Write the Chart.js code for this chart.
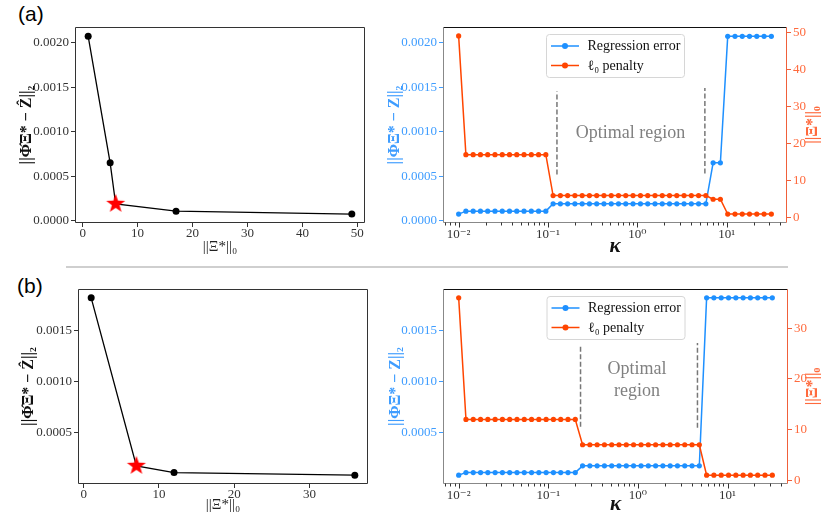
<!DOCTYPE html>
<html>
<head>
<meta charset="utf-8">
<title>Sparsity trade-off and kappa sweep</title>
<script src="https://cdn.jsdelivr.net/npm/chart.js@4.4.1/dist/chart.umd.min.js"></script>
<style>
  html, body { margin: 0; padding: 0; background: #fff; }
  #fig { position: relative; width: 830px; height: 521px; overflow: hidden; }
  #fig canvas { position: absolute; }
  .tag { position: absolute; font: 21px "Liberation Sans", Arial, sans-serif; color: #000; }
  .sep { position: absolute; left: 66px; top: 266px; width: 722px; height: 2px; background: #cfcfcf; }
</style>
</head>
<body>
<div id="fig">
  <div class="tag" style="left:18px;top:2px">(a)</div>
  <div class="tag" style="left:17px;top:274px">(b)</div>
  <div class="sep"></div>
  <canvas id="aLeft" width="372" height="260" style="left:0;top:0"></canvas>
  <canvas id="aRight" width="458" height="260" style="left:372px;top:0"></canvas>
  <canvas id="bLeft" width="372" height="261" style="left:0;top:260px"></canvas>
  <canvas id="bRight" width="458" height="261" style="left:372px;top:260px"></canvas>
</div>
<script>
// ---- data ----

// (a) error vs number of active terms, star marks the chosen model
const sparsityA = [1, 5, 6, 17, 49];
const errorA = [0.00207, 0.00065, 0.00019, 0.000108, 0.000075];
const chosenA = 2;

// (b)
const sparsityB = [1, 7, 12, 36];
const errorB = [0.00182, 0.000178, 0.000112, 0.000087];
const chosenB = 1;

// kappa sweep (shared by both panels)
const kappa = [
  0.01, 0.01206, 0.01454, 0.01754, 0.02115, 0.02551, 0.03076, 0.03709, 0.04473, 0.05394,
  0.06505, 0.07845, 0.0946, 0.1141, 0.1376, 0.1659, 0.2001, 0.2413, 0.291, 0.3509,
  0.4231, 0.5103, 0.6154, 0.7421, 0.8949, 1.084, 1.307, 1.576, 1.9, 2.292,
  2.764, 3.333, 4.019, 4.847, 5.845, 7.049, 8.501, 10.27, 12.39, 14.94,
  18.01, 21.72, 26.2, 31.62
];

const regErrorA = [
  0.000075, 0.000108, 0.000108, 0.000108, 0.000108, 0.000108, 0.000108, 0.000108, 0.000108, 0.000108,
  0.000108, 0.000108, 0.000108, 0.00019, 0.00019, 0.00019, 0.00019, 0.00019, 0.00019, 0.00019,
  0.00019, 0.00019, 0.00019, 0.00019, 0.00019, 0.00019, 0.00019, 0.00019, 0.00019, 0.00019,
  0.00019, 0.00019, 0.00019, 0.00019, 0.00019, 0.00065, 0.00065, 0.00207, 0.00207, 0.00207,
  0.00207, 0.00207, 0.00207, 0.00207
];
const penaltyA = [
  49, 17, 17, 17, 17, 17, 17, 17, 17, 17,
  17, 17, 17, 6, 6, 6, 6, 6, 6, 6,
  6, 6, 6, 6, 6, 6, 6, 6, 6, 6,
  6, 6, 6, 6, 6, 5, 5, 1, 1, 1,
  1, 1, 1, 1
];

const regErrorB = [
  0.000087, 0.000112, 0.000112, 0.000112, 0.000112, 0.000112, 0.000112, 0.000112, 0.000112, 0.000112,
  0.000112, 0.000112, 0.000112, 0.000112, 0.000112, 0.000112, 0.000112, 0.000178, 0.000178, 0.000178,
  0.000178, 0.000178, 0.000178, 0.000178, 0.000178, 0.000178, 0.000178, 0.000178, 0.000178, 0.000178,
  0.000178, 0.000178, 0.000178, 0.000178, 0.00182, 0.00182, 0.00182, 0.00182, 0.00182, 0.00182,
  0.00182, 0.00182, 0.00182, 0.00182
];
const penaltyB = [
  36, 12, 12, 12, 12, 12, 12, 12, 12, 12,
  12, 12, 12, 12, 12, 12, 12, 7, 7, 7,
  7, 7, 7, 7, 7, 7, 7, 7, 7, 7,
  7, 7, 7, 7, 1, 1, 1, 1, 1, 1,
  1, 1, 1, 1
];

// bounds of the "optimal region" (kappa)
const optimalA = [0.126, 5.7];
const optimalB = [0.229, 4.62];

// tick labels
const sparsityTicksA = [0, 10, 20, 30, 40, 50];
const sparsityTicksB = [0, 10, 20, 30];
const errorTicksA = [0, 0.0005, 0.001, 0.0015, 0.002];
const errorTicksB = [0.0005, 0.001, 0.0015];
const penaltyTicksA = [0, 10, 20, 30, 40, 50];
const penaltyTicksB = [0, 10, 20, 30];
const kappaMajor = [0.01, 0.1, 1, 10];
const kappaMajorLabels = ['10\u207B\u00B2', '10\u207B\u00B9', '10\u2070', '10\u00B9'];

// ---- styling ----
const SERIF = '"Liberation Serif", "DejaVu Serif", serif';
const INK = '#333';
const BLUE = '#1e90ff';
const BLUE_TXT = '#3f9dff';
const ORANGE = '#ff4500';
const ORANGE_TXT = '#ff6a3d';
const ORANGE_SPINE = '#f0603a';
const KAPPA_MIN = 0.006683;
const KAPPA_MAX = 47.32;
const TICK_FONT = { family: SERIF, size: 13, lineHeight: 1 };

// minor log ticks (axis decoration only)
const kappaMinor = [];
for (let e = -3; e <= 1; e++) {
  for (let m = 2; m <= 9; m++) {
    const v = m * Math.pow(10, e);
    if (v > KAPPA_MIN && v < KAPPA_MAX) kappaMinor.push(v);
  }
}

function makeStar(r) {
  const c = document.createElement('canvas');
  const s = Math.ceil(r * 2 + 2);
  c.width = s;
  c.height = s;
  const g = c.getContext('2d');
  g.beginPath();
  for (let k = 0; k < 10; k++) {
    const rad = k % 2 === 0 ? r : r * 0.4;
    const a = -Math.PI / 2 + k * Math.PI / 5;
    g.lineTo(s / 2 + rad * Math.cos(a), s / 2 + rad * Math.sin(a));
  }
  g.closePath();
  g.fillStyle = '#ff0000';
  g.fill();
  return c;
}
const starImg = makeStar(10);

function yAxis(o) {
  return {
    type: 'linear',
    position: o.pos,
    min: o.min,
    max: o.max,
    afterBuildTicks: (s) => { s.ticks = o.ticks.map((v) => ({ value: v })); },
    afterFit: (s) => { s.width = o.width; },
    ticks: {
      color: o.color,
      font: TICK_FONT,
      padding: 2,
      callback: o.fmt
    },
    grid: { drawOnChartArea: false, drawTicks: true, tickLength: 4, color: o.tickColor },
    border: { display: false },
    title: o.title
      ? {
          display: true,
          text: o.title,
          color: o.titleColor,
          font: { family: SERIF, size: 16, weight: 'bold' },
          padding: { top: o.titlePad, bottom: 0 }
        }
      : { display: false }
  };
}

function linearX(o) {
  return {
    type: 'linear',
    min: o.min,
    max: o.max,
    afterBuildTicks: (s) => { s.ticks = o.ticks.map((v) => ({ value: v })); },
    afterFit: (s) => { s.height = o.height; },
    ticks: { color: INK, font: TICK_FONT, padding: 0, maxRotation: 0 },
    grid: { drawOnChartArea: false, drawTicks: true, tickLength: 4, color: INK },
    border: { display: false },
    title: {
      display: true,
      text: '||\u039E*||\u2080',
      color: '#222',
      font: { family: SERIF, size: 15 },
      padding: { top: 0, bottom: o.titlePad }
    }
  };
}

function kappaX(height, titlePad) {
  return {
    type: 'logarithmic',
    min: KAPPA_MIN,
    max: KAPPA_MAX,
    afterBuildTicks: (s) => {
      s.ticks = kappaMajor.concat(kappaMinor).sort((a, b) => a - b).map((v) => ({ value: v }));
    },
    afterFit: (s) => { s.height = height; },
    ticks: {
      autoSkip: false,
      maxRotation: 0,
      color: INK,
      font: TICK_FONT,
      padding: 0,
      callback: (v) => {
        const k = kappaMajor.indexOf(v);
        return k >= 0 ? kappaMajorLabels[k] : '';
      }
    },
    grid: { drawOnChartArea: false, drawTicks: true, tickLength: 5, tickColor: 'rgba(0,0,0,0)' },
    border: { display: false },
    title: {
      display: true,
      text: '\u03BA',
      color: '#111',
      font: { family: SERIF, size: 21, style: 'italic', weight: 'bold' },
      padding: { top: 0, bottom: titlePad }
    }
  };
}

function hline(ctx, x1, y1, x2, y2, color) {
  ctx.strokeStyle = color;
  ctx.beginPath();
  ctx.moveTo(x1, y1);
  ctx.lineTo(x2, y2);
  ctx.stroke();
}

// box around the plot area, plus log minor ticks, legend and annotations
function decoPlugin(cfg) {
  return {
    id: 'deco',
    afterDatasetsDraw(chart) {
      if (!cfg.optimal) return;
      const { ctx } = chart;
      const xs = chart.scales.x;
      const ys = chart.scales.y;
      ctx.save();
      ctx.setLineDash([5, 2.5]);
      ctx.lineWidth = 1.5;
      cfg.optimal.forEach((k, i) => {
        const px = xs.getPixelForValue(k);
        hline(ctx, px, ys.getPixelForValue(cfg.dashY[i][0]), px, ys.getPixelForValue(cfg.dashY[i][1]), '#777');
      });
      ctx.setLineDash([]);
      ctx.fillStyle = '#808080';
      ctx.font = '18px ' + SERIF;
      ctx.textAlign = 'center';
      ctx.textBaseline = 'middle';
      cfg.text.forEach((t) => {
        ctx.fillText(t.s, xs.getPixelForValue(t.x), ys.getPixelForValue(t.y));
      });
      ctx.restore();
    },
    afterDraw(chart) {
      const { ctx, chartArea: a } = chart;
      ctx.save();
      ctx.lineWidth = 1;
      const L = Math.round(a.left) + 0.5;
      const R = Math.round(a.right) - 0.5;
      const T = Math.round(a.top) + 0.5;
      const B = Math.round(a.bottom) - 0.5;
      hline(ctx, L, T, R, T, cfg.spines.top);
      hline(ctx, L, B, R, B, cfg.spines.bottom);
      hline(ctx, L, T, L, B, cfg.spines.left);
      hline(ctx, R, T, R, B, cfg.spines.right);

      if (cfg.logTicks) {
        const xs = chart.scales.x;
        kappaMajor.forEach((v) => {
          const px = Math.round(xs.getPixelForValue(v)) + 0.5;
          hline(ctx, px, B, px, B + 5, INK);
        });
        kappaMinor.forEach((v) => {
          const px = Math.round(xs.getPixelForValue(v)) + 0.5;
          hline(ctx, px, B, px, B + 3, INK);
        });
      }

      if (cfg.legend) {
        const w = 138;
        const h = 43;
        const x = (a.left + a.right) / 2 - w / 2;
        const y = a.top + 7;
        ctx.beginPath();
        ctx.roundRect(x + 0.5, y + 0.5, w, h, 3);
        ctx.fillStyle = 'rgba(255,255,255,0.85)';
        ctx.fill();
        ctx.strokeStyle = '#d6d6d6';
        ctx.stroke();
        ctx.font = '14px ' + SERIF;
        ctx.textAlign = 'left';
        ctx.textBaseline = 'middle';
        cfg.legend.forEach((item, i) => {
          const ry = y + 12 + i * 19.5;
          ctx.lineWidth = 1.5;
          hline(ctx, x + 5, ry, x + 33, ry, item.color);
          ctx.fillStyle = item.color;
          ctx.beginPath();
          ctx.arc(x + 19, ry, 3, 0, Math.PI * 2);
          ctx.fill();
          ctx.fillStyle = '#111';
          ctx.fillText(item.label, x + 41.5, ry + 0.5);
        });
      }

      if (cfg.rightTitle) {
        ctx.save();
        ctx.translate(cfg.rightTitle.x, (a.top + a.bottom) / 2);
        ctx.rotate(-Math.PI / 2);
        ctx.fillStyle = ORANGE_TXT;
        ctx.font = 'bold 16px ' + SERIF;
        ctx.textAlign = 'center';
        ctx.textBaseline = 'middle';
        ctx.fillText(cfg.rightTitle.text, 0, 0);
        ctx.restore();
      }
      ctx.restore();
    }
  };
}

const baseOptions = {
  responsive: false,
  animation: false,
  events: [],
  plugins: { legend: { display: false }, tooltip: { enabled: false } }
};

function tradeoffChart(id, sparsity, error, chosen, o) {
  return new Chart(document.getElementById(id), {
    type: 'line',
    data: {
      datasets: [{
        data: sparsity.map((s, i) => ({ x: s, y: error[i] })),
        borderColor: '#000',
        backgroundColor: '#000',
        borderWidth: 1.3,
        pointRadius: 3.5,
        pointBorderWidth: 0,
        pointStyle: sparsity.map((s, i) => (i === chosen ? starImg : 'circle')),
        tension: 0
      }]
    },
    options: Object.assign({}, baseOptions, {
      layout: { padding: o.padding },
      scales: {
        x: linearX({ min: o.xMin, max: o.xMax, ticks: o.xTicks, height: o.xHeight, titlePad: o.xTitlePad }),
        y: yAxis({
          pos: 'left', min: o.yMin, max: o.yMax, ticks: o.yTicks, width: o.yWidth,
          color: INK, tickColor: INK, fmt: (v) => v.toFixed(4),
          title: '||\u03A6\u0302\u039E* \u2212 \u1E90||\u2082', titleColor: '#111', titlePad: o.yTitlePad
        })
      }
    }),
    plugins: [decoPlugin({ spines: { top: INK, bottom: INK, left: INK, right: INK } })]
  });
}

function sweepChart(id, regError, penalty, o) {
  return new Chart(document.getElementById(id), {
    type: 'line',
    data: {
      datasets: [
        {
          label: 'Regression error',
          data: kappa.map((k, i) => ({ x: k, y: regError[i] })),
          yAxisID: 'y',
          borderColor: BLUE,
          backgroundColor: BLUE,
          borderWidth: 1.5,
          pointRadius: 2.6,
          pointBorderWidth: 0,
          tension: 0,
          order: 2
        },
        {
          label: '\u2113\u2080 penalty',
          data: kappa.map((k, i) => ({ x: k, y: penalty[i] })),
          yAxisID: 'y2',
          borderColor: ORANGE,
          backgroundColor: ORANGE,
          borderWidth: 1.5,
          pointRadius: 2.6,
          pointBorderWidth: 0,
          tension: 0,
          order: 1
        }
      ]
    },
    options: Object.assign({}, baseOptions, {
      layout: { padding: o.padding },
      scales: {
        x: kappaX(o.xHeight, o.xTitlePad),
        y: yAxis({
          pos: 'left', min: o.yMin, max: o.yMax, ticks: o.yTicks, width: o.yWidth,
          color: BLUE_TXT, tickColor: BLUE_TXT, fmt: (v) => v.toFixed(4),
          title: '||\u03A6\u039E* \u2212 Z||\u2082', titleColor: BLUE_TXT, titlePad: o.yTitlePad
        }),
        y2: yAxis({
          pos: 'right', min: o.pMin, max: o.pMax, ticks: o.pTicks, width: o.pWidth,
          color: ORANGE_TXT, tickColor: ORANGE_SPINE, fmt: (v) => String(v)
        })
      }
    }),
    plugins: [decoPlugin({
      spines: { top: '#111', bottom: '#888', left: '#888', right: ORANGE_SPINE },
      logTicks: true,
      optimal: o.optimal,
      dashY: o.dashY,
      text: o.text,
      legend: [
        { label: 'Regression error', color: BLUE },
        { label: '\u2113\u2080 penalty', color: ORANGE }
      ],
      rightTitle: { x: 441, text: '||\u039E*||\u2080' }
    })]
  });
}

tradeoffChart('aLeft', sparsityA, errorA, chosenA, {
  padding: { left: 0, top: 27, right: 7, bottom: 0 },
  xMin: -1.4, xMax: 51.4, xTicks: sparsityTicksA, xHeight: 37, xTitlePad: 4,
  yMin: -0.000025, yMax: 0.002175, yTicks: errorTicksA, yWidth: 75, yTitlePad: 17
});

sweepChart('aRight', regErrorA, penaltyA, {
  padding: { left: 0, top: 27, right: 0, bottom: 0 },
  xHeight: 37, xTitlePad: 1,
  yMin: -0.000025, yMax: 0.002175, yTicks: errorTicksA, yWidth: 71, yTitlePad: 13,
  pMin: -1.4, pMax: 51.4, pTicks: penaltyTicksA, pWidth: 43,
  optimal: optimalA,
  dashY: [[0.00052, 0.00145], [0.00053, 0.00149]],
  text: [{ s: 'Optimal region', x: 0.84, y: 0.00098 }]
});

tradeoffChart('bLeft', sparsityB, errorB, chosenB, {
  padding: { left: 0, top: 29, right: 3, bottom: 0 },
  xMin: -0.75, xMax: 37.75, xTicks: sparsityTicksB, xHeight: 37, xTitlePad: 7,
  yMin: 0.0000005, yMax: 0.0019067, yTicks: errorTicksB, yWidth: 78, yTitlePad: 19
});

sweepChart('bRight', regErrorB, penaltyB, {
  padding: { left: 0, top: 29, right: 0, bottom: 0 },
  xHeight: 37, xTitlePad: 4,
  yMin: 0.0000005, yMax: 0.0019067, yTicks: errorTicksB, yWidth: 71, yTitlePad: 14,
  pMin: -0.75, pMax: 37.75, pTicks: penaltyTicksB, pWidth: 42,
  optimal: optimalB,
  dashY: [[0.00056, 0.00136], [0.00055, 0.00138]],
  text: [
    { s: 'Optimal', x: 0.98, y: 0.00112 },
    { s: 'region', x: 0.98, y: 0.000907 }
  ]
});
</script>
</body>
</html>
